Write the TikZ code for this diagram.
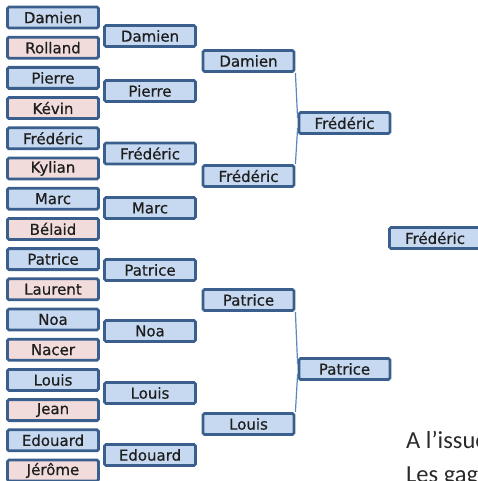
\documentclass[tikz,border=0pt]{standalone}
\usepackage{fontspec}
\setmainfont{DejaVu Sans}
\newfontfamily\boxfont{DejaVu Sans}[FakeBold=0.6]
\newfontfamily\bodyfont{Carlito}
\definecolor{boxblue}{HTML}{C6D9F1}
\definecolor{boxpink}{HTML}{F2DCDB}
\definecolor{boxline}{HTML}{3A5F8D}
\definecolor{linkline}{HTML}{5B86BE}
\definecolor{txt}{HTML}{1E1E1E}
\definecolor{prosetxt}{HTML}{2A2A2A}
\tikzset{
  player/.style={draw=boxline, line width=2.8pt, rounded corners=1.5pt,
    minimum width=91pt, minimum height=21pt, inner sep=0pt,
    text=txt, font=\boxfont\fontsize{15}{16}\selectfont},
  win/.style={player, fill=boxblue},
  lose/.style={player, fill=boxpink},
  link/.style={draw=linkline, line width=1.2pt},
  prose/.style={inner sep=0pt, anchor=base west, text=prosetxt, font=\bodyfont\fontsize{24.5}{26}\selectfont}
}
\begin{document}
\begin{tikzpicture}[x=1pt,y=-1pt]
\useasboundingbox (0,0) rectangle (478,481);
% round 1
\node[win]  (c1a) at (53,17.5) {Damien};
\node[lose] (c1b) at (53,47.7) {Rolland};
\node[win]  (c1c) at (53,77.9) {Pierre};
\node[lose] (c1d) at (53,108.1) {Kévin};
\node[win]  (c1e) at (53,138.3) {Frédéric};
\node[lose] (c1f) at (53,168.5) {Kylian};
\node[win]  (c1g) at (53,198.7) {Marc};
\node[lose] (c1h) at (53,228.9) {Bélaid};
\node[win]  (c1i) at (53,259.1) {Patrice};
\node[lose] (c1j) at (53,289.3) {Laurent};
\node[win]  (c1k) at (53,319.5) {Noa};
\node[lose] (c1l) at (53,349.7) {Nacer};
\node[win]  (c1m) at (53,379.9) {Louis};
\node[lose] (c1n) at (53,410.1) {Jean};
\node[win]  (c1o) at (53,440.3) {Edouard};
\node[lose] (c1p) at (53,470.5) {Jérôme};
% round 2
\node[win] (c2a) at (150,36) {Damien};
\node[win] (c2b) at (150,91) {Pierre};
\node[win] (c2c) at (150,153.5) {Frédéric};
\node[win] (c2d) at (150,208) {Marc};
\node[win] (c2e) at (150,270) {Patrice};
\node[win] (c2f) at (150,331) {Noa};
\node[win] (c2g) at (150,393) {Louis};
\node[win] (c2h) at (150,455) {Edouard};
% round 3
\node[win] (c3a) at (248.5,61) {Damien};
\node[win] (c3b) at (248.5,176) {Frédéric};
\node[win] (c3c) at (248.5,300) {Patrice};
\node[win] (c3d) at (248.5,424) {Louis};
% round 4
\node[win] (c4a) at (344.5,123) {Frédéric};
\node[win] (c4b) at (344.5,369) {Patrice};
% final
\node[win] (c5a) at (435,238) {Frédéric};
% links
\draw[link] (c3a.south east) -- ([yshift=5pt]c4a.west);
\draw[link] (c3b.north east) -- ([yshift=-5pt]c4a.west);
\draw[link] (c3c.south east) -- ([yshift=5pt]c4b.west);
\draw[link] (c3d.north east) -- ([yshift=-5pt]c4b.west);
% text
\node[prose] (t1) at (406,448) {A l’issue};
\node[prose] (t2) at (406,482) {Les gag};
\end{tikzpicture}
\end{document}
